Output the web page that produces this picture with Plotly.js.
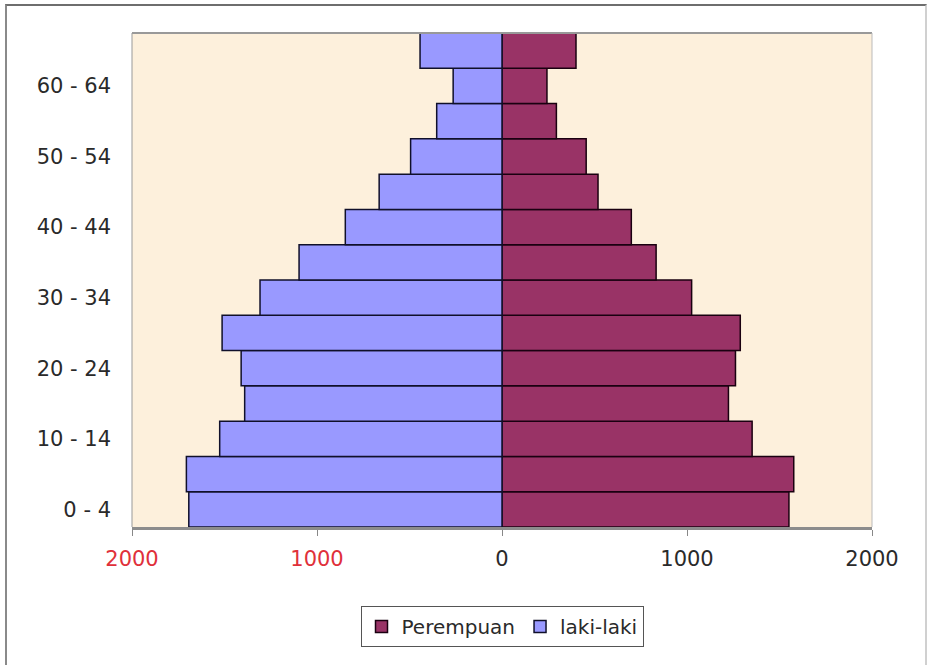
<!DOCTYPE html>
<html>
<head>
<meta charset="utf-8">
<script src="https://cdn.plot.ly/plotly-3.0.1.min.js"></script>
<style>
  html, body { margin: 0; padding: 0; background: #ffffff; }
  #chart { width: 927px; height: 665px; }
  #frame { position: absolute; left: 5px; top: 4px; width: 918px; height: 670px;
           border-top: 2px solid #6e6e6e; border-left: 2px solid #8a8a8a; border-right: 2px solid #d0d0d0;
           pointer-events: none; }
</style>
</head>
<body>
<div id="chart"></div>
<div id="frame"></div>
<script>
// Age groups, bottom to top
const ageGroups = ['0 - 4','5 - 9','10 - 14','15 - 19','20 - 24','25 - 29','30 - 34','35 - 39','40 - 44','45 - 49','50 - 54','55 - 59','60 - 64','65+'];
const labeledGroups = ['0 - 4','10 - 14','20 - 24','30 - 34','40 - 44','50 - 54','60 - 64'];
// Values (persons)
const perempuan = [1551, 1577, 1352, 1224, 1262, 1288, 1025, 833, 699, 519, 455, 294, 243, 400];
const lakiLaki  = [1693, 1706, 1526, 1391, 1410, 1513, 1308, 1097, 847, 664, 494, 353, 264, 443];
const xTickVals = [-2000, -1000, 0, 1000, 2000];
const xTickText = ['<span style="color:#e0303a">2000</span>', '<span style="color:#e0303a">1000</span>', '0', '1000', '2000'];

const tickFont = { family: 'DejaVu Sans, sans-serif', size: 21, color: '#2a2a2a' };
const legendFont = { family: 'DejaVu Sans, sans-serif', size: 20, color: '#2a2a2a' };

const traces = [
  {
    type: 'bar', orientation: 'h', name: 'Perempuan',
    y: ageGroups, x: perempuan,
    marker: { color: '#993366', line: { color: '#1a0010', width: 1.5 } },
    hoverinfo: 'skip'
  },
  {
    type: 'bar', orientation: 'h', name: 'laki-laki',
    y: ageGroups, x: lakiLaki.map(v => -v),
    marker: { color: '#9999ff', line: { color: '#10102a', width: 1.5 } },
    hoverinfo: 'skip'
  }
];

const layout = {
  width: 927, height: 665,
  margin: { l: 132, r: 55, t: 33, b: 138 },
  paper_bgcolor: '#ffffff',
  plot_bgcolor: '#fdf0dc',
  barmode: 'relative',
  bargap: 0,
  font: tickFont,
  showlegend: true,
  legend: {
    orientation: 'h', x: 0.5, xanchor: 'center', y: -0.16, yanchor: 'top',
    bordercolor: '#555555', borderwidth: 1, bgcolor: '#ffffff',
    font: legendFont, traceorder: 'normal'
  },
  xaxis: {
    range: [-2000, 2000],
    tickvals: xTickVals, ticktext: xTickText,
    ticks: 'outside', ticklen: 6, tickcolor: '#888888', tickwidth: 1,
    ticklabelstandoff: 5,
    tickfont: tickFont,
    showgrid: false,
    zeroline: false,
    showline: true, linecolor: '#8c8c8c', linewidth: 3,
    fixedrange: true
  },
  yaxis: {
    type: 'category',
    categoryorder: 'array', categoryarray: ageGroups,
    range: [-0.5, ageGroups.length - 0.5],
    tickvals: labeledGroups,
    ticks: '', ticklabelstandoff: 20,
    tickfont: tickFont,
    showgrid: false, zeroline: false, showline: false,
    fixedrange: true
  },
  yaxis2: {
    overlaying: 'y', anchor: 'free', position: 0.5, side: 'left',
    range: [-0.5, ageGroups.length - 0.5],
    tickmode: 'linear', tick0: 0, dtick: 1,
    ticks: 'outside', ticklen: 5, tickcolor: '#000000', tickwidth: 1,
    showticklabels: false, showgrid: false, zeroline: false,
    showline: true, linecolor: '#000000', linewidth: 2,
    fixedrange: true
  },
  shapes: [
    { type: 'line', xref: 'paper', yref: 'paper', x0: 0, x1: 1, y0: 1, y1: 1, line: { color: '#999999', width: 2 } },
    { type: 'line', xref: 'paper', yref: 'paper', x0: 0, x1: 0, y0: 0, y1: 1, line: { color: '#999999', width: 1 } },
    { type: 'line', xref: 'paper', yref: 'paper', x0: 1, x1: 1, y0: 0, y1: 1, line: { color: '#bbbbbb', width: 1 } }
  ]
};

Plotly.newPlot('chart', traces, layout, { displayModeBar: false, staticPlot: true });
</script>
</body>
</html>
